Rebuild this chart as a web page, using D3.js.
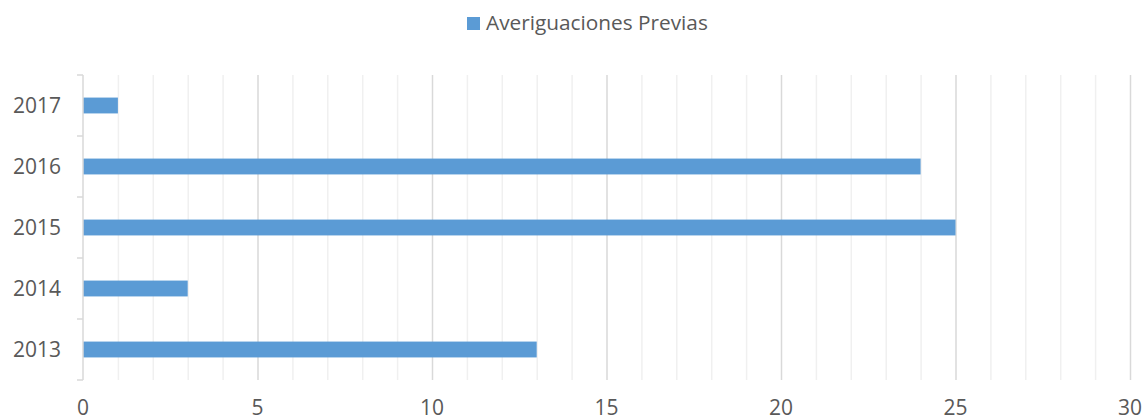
<!DOCTYPE html>
<html>
<head>
<meta charset="utf-8">
<script src="https://cdn.jsdelivr.net/npm/d3@7"></script>
<style>
  body { margin: 0; background: #fff; }
  text { font-family: "Open Sans", sans-serif; fill: #595959; }
</style>
</head>
<body>
<div id="chart"></div>
<script>
var years = ["2017", "2016", "2015", "2014", "2013"];
var values = [1, 24, 25, 3, 13];
var seriesName = "Averiguaciones Previas";
var xTicks = [0, 5, 10, 15, 20, 25, 30];

var width = 1145,
    height = 420;

var plotLeft = 83, plotRight = 1130, plotTop = 75, plotBottom = 380;

var svg = d3.select("#chart").append("svg")
    .attr("width", width)
    .attr("height", height);

var x = d3.scaleLinear()
    .domain([0, 30])
    .range([plotLeft, plotRight]);

var y = d3.scaleBand()
    .domain(years)
    .range([plotTop, plotBottom])
    .paddingInner(0.74)
    .paddingOuter(0.37);

var yOuter = d3.scaleBand()
    .domain(years)
    .range([plotTop, plotBottom]);

// minor gridlines
svg.append("g")
  .selectAll("line")
  .data(d3.range(1, 31).filter(function(d) { return d % 5 != 0; }))
  .enter().append("line")
    .attr("x1", function(d) { return x(d) + 0.5; })
    .attr("x2", function(d) { return x(d) + 0.5; })
    .attr("y1", plotTop)
    .attr("y2", plotBottom)
    .attr("stroke", "#f0f0f0")
    .attr("stroke-width", 1.5);

// major gridlines
svg.append("g")
  .selectAll("line")
  .data(xTicks.slice(1))
  .enter().append("line")
    .attr("x1", function(d) { return x(d) + 0.5; })
    .attr("x2", function(d) { return x(d) + 0.5; })
    .attr("y1", plotTop)
    .attr("y2", plotBottom)
    .attr("stroke", "#d9d9d9")
    .attr("stroke-width", 1.5);

// bars
svg.append("g")
  .selectAll("rect")
  .data(values)
  .enter().append("rect")
    .attr("x", x(0))
    .attr("y", function(d, i) { return y(years[i]); })
    .attr("width", function(d) { return x(d) - x(0); })
    .attr("height", y.bandwidth())
    .attr("fill", "#5b9bd5");

// y axis line + ticks
svg.append("line")
    .attr("x1", plotLeft).attr("x2", plotLeft)
    .attr("y1", plotTop).attr("y2", plotBottom)
    .attr("stroke", "#d9d9d9")
    .attr("stroke-width", 1.5);

var ticksY = [plotTop].concat(years.map(function(d) { return yOuter(d) + yOuter.bandwidth(); }));
svg.append("g")
  .selectAll("line")
  .data(ticksY)
  .enter().append("line")
    .attr("x1", plotLeft - 6).attr("x2", plotLeft)
    .attr("y1", function(d) { return d; })
    .attr("y2", function(d) { return d; })
    .attr("stroke", "#d9d9d9")
    .attr("stroke-width", 1.5);

// y labels
svg.append("g")
  .selectAll("text")
  .data(years)
  .enter().append("text")
    .attr("x", 61)
    .attr("y", function(d) { return yOuter(d) + yOuter.bandwidth() / 2; })
    .attr("dy", "0.36em")
    .attr("text-anchor", "end")
    .style("font-size", "21px")
    .text(function(d) { return d; });

// x labels
svg.append("g")
  .selectAll("text")
  .data(xTicks)
  .enter().append("text")
    .attr("x", function(d) { return x(d); })
    .attr("y", 415)
    .attr("text-anchor", "middle")
    .style("font-size", "21px")
    .text(function(d) { return d; });

// legend
var legend = svg.append("g");
legend.append("rect")
    .attr("x", 467).attr("y", 17)
    .attr("width", 13).attr("height", 13)
    .attr("fill", "#5b9bd5");
legend.append("text")
    .attr("x", 486)
    .attr("y", 23)
    .attr("dy", "0.36em")
    .style("font-size", "20.8px")
    .text(seriesName);
</script>
</body>
</html>
